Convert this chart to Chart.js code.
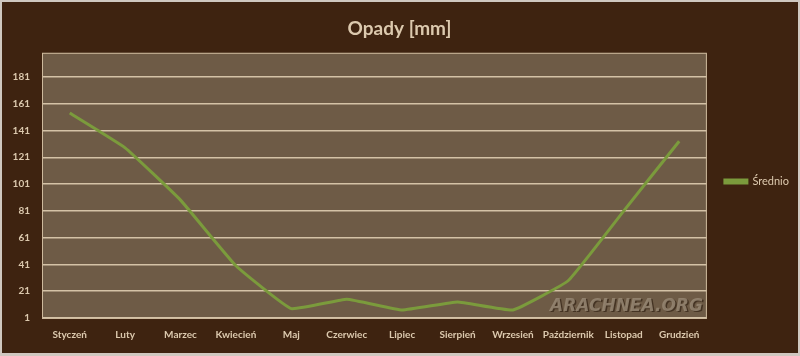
<!DOCTYPE html>
<html>
<head>
<meta charset="utf-8">
<script src="https://cdn.jsdelivr.net/npm/chart.js@4"></script>
<style>
html,body{margin:0;padding:0;background:#c9c2ba;}
#wrap{width:800px;height:356px;position:relative;}
</style>
</head>
<body>
<div id="wrap"><canvas id="c"></canvas></div>
<script>
const months = ['Styczeń','Luty','Marzec','Kwiecień','Maj','Czerwiec','Lipiec','Sierpień','Wrzesień','Październik','Listopad','Grudzień'];
const srednio = [154, 128, 89, 40, 8, 15, 7, 13, 7, 29, 81, 133];
const yTicks = [1, 21, 41, 61, 81, 101, 121, 141, 161, 181];
const yMin = 1, yMax = 199;

const bgPlugin = {
  id: 'bg',
  beforeDraw(chart) {
    const ctx = chart.ctx, a = chart.chartArea;
    ctx.save();
    ctx.fillStyle = '#cfc8c0';
    ctx.fillRect(0, 0, chart.width, chart.height);
    ctx.fillStyle = '#3e2310';
    ctx.fillRect(2, 2, chart.width - 4, chart.height - 5);
    ctx.fillStyle = '#6e5b46';
    ctx.fillRect(a.left, a.top, a.right - a.left, a.bottom - a.top);
    ctx.restore();
  },
  afterDraw(chart) {
    const ctx = chart.ctx, a = chart.chartArea;
    ctx.save();
    ctx.strokeStyle = '#cdb99c';
    ctx.lineWidth = 1;
    ctx.strokeRect(a.left + 0.5, a.top + 0.5, a.right - a.left - 1, a.bottom - a.top);
    ctx.font = 'italic bold 17px "DejaVu Sans"';
    ctx.textAlign = 'right';
    ctx.textBaseline = 'bottom';
    ctx.fillStyle = 'rgba(40,25,12,0.6)';
    ctx.fillText('ARACHNEA.ORG', a.right - 4 + 1.5, a.bottom - 3 + 1.5);
    ctx.fillStyle = 'rgba(150,135,115,0.85)';
    ctx.fillText('ARACHNEA.ORG', a.right - 4, a.bottom - 3);
    ctx.restore();
  }
};

new Chart(document.getElementById('c'), {
  type: 'line',
  data: {
    labels: months,
    datasets: [{
      label: 'Średnio',
      data: srednio,
      borderColor: '#7b9b3c',
      backgroundColor: '#7b9b3c',
      borderWidth: 3,
      pointRadius: 0,
      tension: 0.1,
      fill: false
    }]
  },
  options: {
    responsive: true,
    maintainAspectRatio: false,
    animation: false,
    layout: { padding: { top: 7, left: 0, right: 1, bottom: 0 } },
    plugins: {
      title: {
        display: true,
        text: 'Opady [mm]',
        color: '#dcc9ae',
        font: { family: 'Lato', size: 19, weight: 'bold' },
        padding: { top: 10, bottom: 13 }
      },
      legend: {
        display: true,
        position: 'right',
        labels: {
          color: '#dcc9ae',
          font: { family: 'Lato', size: 11 },
          boxWidth: 22,
          boxHeight: 3,
          padding: 18
        }
      },
      tooltip: { enabled: false }
    },
    scales: {
      x: {
        offset: true,
        grid: { display: false, drawTicks: false },
        border: { display: false },
        ticks: {
          color: '#dcc9ae',
          font: { family: 'Lato', size: 10, weight: 'bold' },
          maxRotation: 0,
          autoSkip: false,
          padding: 11
        },
        afterFit(s) { s.height = 38; }
      },
      y: {
        min: yMin,
        max: yMax,
        grid: { color: '#d4c2a6', lineWidth: 1.5, drawTicks: false },
        border: { display: false },
        afterBuildTicks(s) { s.ticks = yTicks.map(v => ({ value: v })); },
        ticks: {
          color: '#dcc9ae',
          font: { family: 'Lato', size: 10, weight: 'bold' },
          padding: 12
        },
        afterFit(s) { s.width = 42; }
      }
    }
  },
  plugins: [bgPlugin]
});
</script>
</body>
</html>
